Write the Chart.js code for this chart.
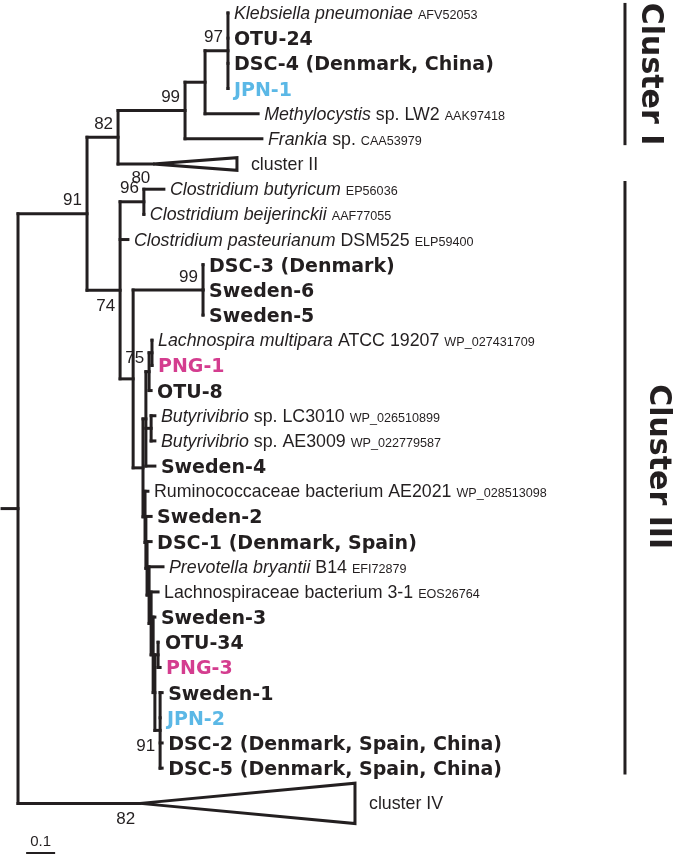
<!DOCTYPE html>
<html>
<head>
<meta charset="utf-8">
<script src="https://cdn.jsdelivr.net/npm/chart.js@4.4.1/dist/chart.umd.min.js"></script>
<style>
  html, body { margin: 0; padding: 0; background: #fff; }
  #wrap { width: 675px; height: 858px; }
</style>
</head>
<body>
<div id="wrap"><canvas id="tree" width="675" height="858"></canvas></div>
<script>
// internal nodes: distance from root (substitutions per site), parent
const nodeNames   = ['root', 'n91', 'n82', 'n99', 'n205', 'n97', 'n74', 'n80', 'nA', 'n99b', 'nB', 'nP', 'n75', 'nLP', 'nButy', 'nY', 'nX', 'nW', 'nV', 'nU', 'nT', 'nS', 'nOP', 'n91b'];
const nodeParents = [null, 'root', 'n91', 'n82', 'n99', 'n205', 'n91', 'n74', 'n74', 'nA', 'nA', 'nB', 'nP', 'n75', 'nP', 'nB', 'nY', 'nX', 'nW', 'nV', 'nU', 'nT', 'nS', 'nS'];
const nodeDepth   = [0, 0.238, 0.345, 0.576, 0.645, 0.724, 0.352, 0.434, 0.397, 0.638, 0.431, 0.441, 0.452, 0.462, 0.459, 0.438, 0.441, 0.445, 0.452, 0.459, 0.466, 0.472, 0.483, 0.490];

// leaves in drawing order (row = position from top)
const leafNames = ['Klebsiella', 'OTU-24', 'DSC-4', 'JPN-1', 'Methylocystis', 'Frankia', 'cII',
  'C.butyricum', 'C.beijerinckii', 'C.pasteurianum', 'DSC-3', 'Sweden-6', 'Sweden-5',
  'Lachnospira', 'PNG-1', 'OTU-8', 'ButyLC3010', 'ButyAE3009', 'Sweden-4', 'Ruminococcaceae',
  'Sweden-2', 'DSC-1', 'Prevotella', 'Lachnospiraceae', 'Sweden-3', 'OTU-34', 'PNG-3',
  'Sweden-1', 'JPN-2', 'DSC-2', 'DSC-5', 'cIV'];
const leafParents = ['n97', 'n97', 'n97', 'n97', 'n205', 'n99', 'n82',
  'n80', 'n80', 'n74', 'n99b', 'n99b', 'n99b',
  'nLP', 'nLP', 'n75', 'nButy', 'nButy', 'nP', 'nY',
  'nX', 'nW', 'nV', 'nU', 'nT', 'nOP', 'nOP',
  'n91b', 'n91b', 'n91b', 'n91b', 'root'];
const leafDepth = [0.724, 0.724, 0.724, 0.724, 0.828, 0.841, 0.466,
  0.503, 0.434, 0.379, 0.638, 0.638, 0.638,
  0.462, 0.462, 0.459, 0.472, 0.472, 0.472, 0.448,
  0.459, 0.459, 0.500, 0.483, 0.472, 0.486, 0.490,
  0.497, 0.493, 0.497, 0.497, 0.421];
const leafRows = [0, 1, 2, 3, 4, 5, 6, 7, 8, 9, 10, 11, 12, 13, 14, 15, 16, 17, 18, 19,
  20, 21, 22, 23, 24, 25, 26, 27, 28, 29, 30, 31.4];
// collapsed clusters: deepest tip and half height (rows)
const collapsedTip  = [null, null, null, null, null, null, 0.755, null, null, null, null, null, null, null, null, null, null, null, null, null, null, null, null, null, null, null, null, null, null, null, null, 1.162];
const collapsedHalf = [null, null, null, null, null, null, 0.25, null, null, null, null, null, null, null, null, null, null, null, null, null, null, null, null, null, null, null, null, null, null, null, null, 0.8];

// label text: i italic, r roman, s accession, b bold (bj blue, bp pink)
const leafLabels = [
  [['i', 'Klebsiella pneumoniae'], ['s', 'AFV52053']],
  [['b', 'OTU-24']],
  [['b', 'DSC-4 (Denmark, China)']],
  [['bj', 'JPN-1']],
  [['i', 'Methylocystis'], ['r', ' sp. LW2'], ['s', 'AAK97418']],
  [['i', 'Frankia'], ['r', ' sp.'], ['s', 'CAA53979']],
  [['r', 'cluster II']],
  [['i', 'Clostridium butyricum'], ['s', 'EP56036']],
  [['i', 'Clostridium beijerinckii'], ['s', 'AAF77055']],
  [['i', 'Clostridium pasteurianum'], ['r', ' DSM525'], ['s', 'ELP59400']],
  [['b', 'DSC-3 (Denmark)']],
  [['b', 'Sweden-6']],
  [['b', 'Sweden-5']],
  [['i', 'Lachnospira multipara'], ['r', ' ATCC 19207'], ['s', 'WP_027431709']],
  [['bp', 'PNG-1']],
  [['b', 'OTU-8']],
  [['i', 'Butyrivibrio'], ['r', ' sp. LC3010'], ['s', 'WP_026510899']],
  [['i', 'Butyrivibrio'], ['r', ' sp. AE3009'], ['s', 'WP_022779587']],
  [['b', 'Sweden-4']],
  [['r', 'Ruminococcaceae bacterium AE2021'], ['s', 'WP_028513098']],
  [['b', 'Sweden-2']],
  [['b', 'DSC-1 (Denmark, Spain)']],
  [['i', 'Prevotella bryantii'], ['r', ' B14'], ['s', 'EFI72879']],
  [['r', 'Lachnospiraceae bacterium 3-1'], ['s', 'EOS26764']],
  [['b', 'Sweden-3']],
  [['b', 'OTU-34']],
  [['bp', 'PNG-3']],
  [['b', 'Sweden-1']],
  [['bj', 'JPN-2']],
  [['b', 'DSC-2 (Denmark, Spain, China)']],
  [['b', 'DSC-5 (Denmark, Spain, China)']],
  [['r', 'cluster IV']]
];

// bootstrap support
const supportNodes  = ['n91', 'n82', 'n99', 'n97', 'n74', 'n80', 'n80', 'n99b', 'n75', 'n91b', 'cIV'];
const supportValues = ['91', '82', '99', '97', '74', '96', '80', '99', '75', '91', '82'];
const supportSide   = ['above', 'above', 'above', 'above', 'below', 'above', 'top', 'above', 'above', 'below', 'below'];

// clusters on the right
const clusterTitles   = ['Cluster I', 'Cluster III'];
const clusterFirstRow = [-0.4, 6.67];
const clusterLastRow  = [5.25, 30.25];

const scaleBarLength = 0.1;

const ink = '#231f20';
const colours = { j: '#5bb8e6', p: '#d43d8f' };
const fonts = {
  i: 'italic 17.8px "Liberation Sans"',
  r: '17.8px "Liberation Sans"',
  s: '12.6px "Liberation Sans"',
  b: 'bold 19px "DejaVu Sans"'
};

// tree layout
const children = {};
nodeNames.forEach(n => children[n] = []);
nodeParents.forEach((p, k) => { if (p) children[p].push(nodeNames[k]); });
leafParents.forEach((p, k) => children[p].push(leafNames[k]));

function pos(name) {
  const li = leafNames.indexOf(name);
  if (li >= 0) return { d: leafDepth[li], r: leafRows[li], top: leafRows[li], bottom: leafRows[li] };
  const k = nodeNames.indexOf(name);
  const rows = children[name].map(c => pos(c).r);
  const top = Math.min(...rows), bottom = Math.max(...rows);
  return { d: nodeDepth[k], r: (top + bottom) / 2, top, bottom };
}
function depthOf(name) {
  const k = nodeNames.indexOf(name);
  return nodeDepth[k];
}

const datasets = [];
function seg(pts, cap) {
  datasets.push({
    data: pts, showLine: true, borderColor: ink, borderWidth: 3, pointRadius: 0,
    borderCapStyle: cap || 'square', borderJoinStyle: 'miter', fill: false, clip: false
  });
}

const rootPos = pos('root');
seg([{ x: -0.055, y: rootPos.r }, { x: 0, y: rootPos.r }]);
nodeNames.forEach((n, k) => {
  const p = pos(n);
  seg([{ x: p.d, y: p.top }, { x: p.d, y: p.bottom }]);
  if (nodeParents[k]) seg([{ x: depthOf(nodeParents[k]), y: p.r }, { x: p.d, y: p.r }]);
});
leafNames.forEach((n, k) => {
  const r = leafRows[k];
  seg([{ x: depthOf(leafParents[k]), y: r }, { x: leafDepth[k], y: r }]);
  if (collapsedTip[k] !== null) {
    const h = collapsedHalf[k];
    seg([{ x: leafDepth[k], y: r }, { x: collapsedTip[k], y: r - h },
         { x: collapsedTip[k], y: r + h }, { x: leafDepth[k], y: r }], 'butt');
  }
});

const treeText = {
  id: 'treeText',
  afterDatasetsDraw(chart) {
    const { ctx, chartArea, scales: { x, y } } = chart;
    ctx.save();
    ctx.textBaseline = 'alphabetic';
    ctx.textAlign = 'left';
    leafLabels.forEach((segs, k) => {
      const tri = collapsedTip[k] !== null;
      let px = x.getPixelForValue(tri ? collapsedTip[k] : leafDepth[k]) + (tri ? 14 : 6);
      const py = y.getPixelForValue(leafRows[k]);
      segs.forEach(([st, txt]) => {
        if (st === 's') px += 5;
        ctx.font = fonts[st[0]];
        ctx.fillStyle = colours[st[1]] || ink;
        ctx.fillText(txt, px, py + (st[0] === 'b' ? 7 : 6));
        px += ctx.measureText(txt).width;
      });
    });

    ctx.font = '17px "Liberation Sans"';
    ctx.fillStyle = ink;
    supportNodes.forEach((n, k) => {
      const p = pos(n);
      const px = x.getPixelForValue(p.d), py = y.getPixelForValue(p.r);
      if (supportSide[k] === 'top') {
        ctx.textAlign = 'center';
        ctx.textBaseline = 'bottom';
        ctx.fillText(supportValues[k], px - 3, y.getPixelForValue(p.top) - 2);
      } else {
        ctx.textAlign = 'right';
        ctx.textBaseline = 'middle';
        ctx.fillText(supportValues[k], px - 5, py + (supportSide[k] === 'above' ? -13 : 16));
      }
    });

    // cluster brackets
    ctx.strokeStyle = ink;
    ctx.lineWidth = 3;
    const bx = x.getPixelForValue(2.093);
    const gaps = [17, 25];
    const shift = [0, -11];
    clusterTitles.forEach((t, k) => {
      const y0 = y.getPixelForValue(clusterFirstRow[k]), y1 = y.getPixelForValue(clusterLastRow[k]);
      ctx.beginPath();
      ctx.moveTo(bx, y0);
      ctx.lineTo(bx, y1);
      ctx.stroke();
      ctx.save();
      ctx.translate(bx + gaps[k], (y0 + y1) / 2 + shift[k]);
      ctx.rotate(Math.PI / 2);
      ctx.font = 'bold 30px "DejaVu Sans"';
      ctx.textAlign = 'center';
      ctx.textBaseline = 'alphabetic';
      ctx.fillText(t, 0, 0);
      ctx.restore();
    });

    // scale bar
    const sx0 = x.getPixelForValue(0.028), sx1 = x.getPixelForValue(0.028 + scaleBarLength);
    const sy = chartArea.bottom - 5;
    ctx.lineWidth = 2;
    ctx.beginPath();
    ctx.moveTo(sx0, sy);
    ctx.lineTo(sx1, sy);
    ctx.stroke();
    ctx.font = '15px "Liberation Sans"';
    ctx.textAlign = 'center';
    ctx.textBaseline = 'middle';
    ctx.fillText(String(scaleBarLength), (sx0 + sx1) / 2, sy - 11);
    ctx.restore();
  }
};

new Chart(document.getElementById('tree'), {
  type: 'scatter',
  data: { datasets: datasets },
  options: {
    responsive: false,
    animation: false,
    devicePixelRatio: 1,
    layout: { padding: 0 },
    elements: { point: { radius: 0 }, line: { tension: 0 } },
    scales: {
      x: { type: 'linear', min: -0.0621, max: 2.2655, display: false },
      y: { type: 'linear', min: -0.5165, max: 33.57, reverse: true, display: false }
    },
    plugins: { legend: { display: false }, tooltip: { enabled: false } }
  },
  plugins: [treeText]
});
</script>
</body>
</html>
